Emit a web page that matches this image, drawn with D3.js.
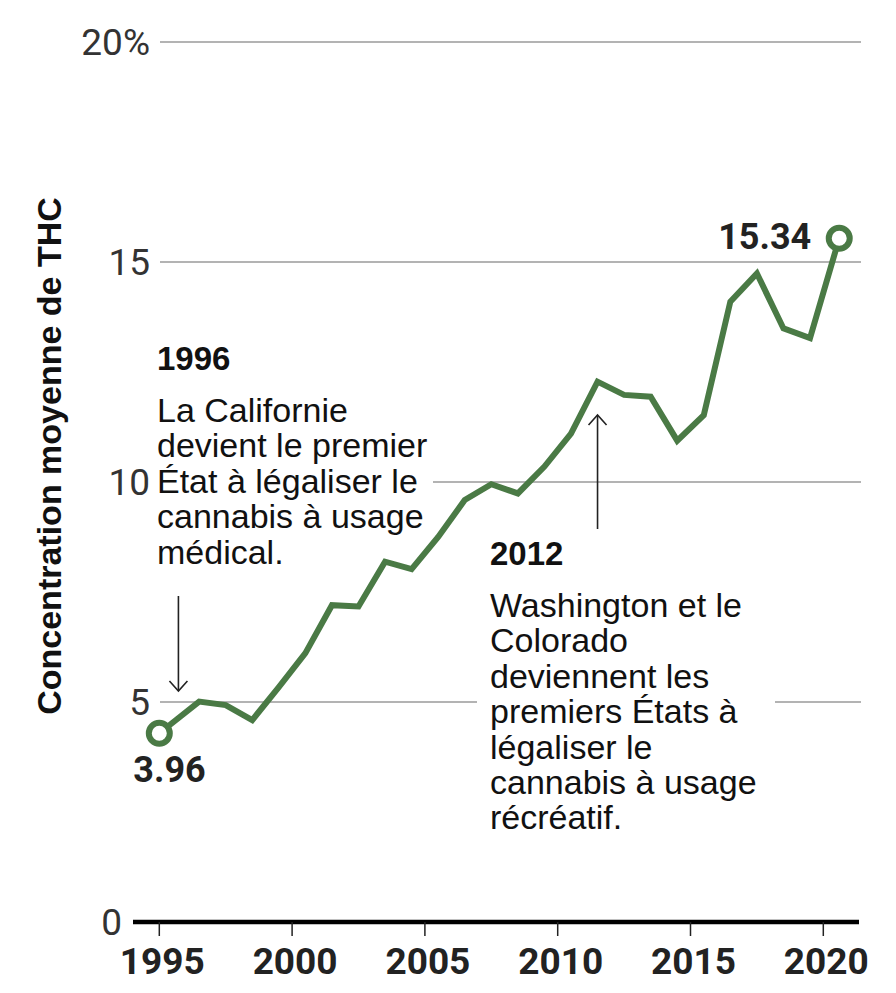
<!DOCTYPE html>
<html>
<head>
<meta charset="utf-8">
<script src="https://cdn.jsdelivr.net/npm/d3@7"></script>
<style>
  html, body { margin: 0; padding: 0; background: #fff; }
  svg { display: block; }
</style>
</head>
<body>
<div id="chart"></div>
<script>
// ---- Data ----
const years = [1995, 1996.5, 1997.5, 1998.5, 1999.5, 2000.5, 2001.5, 2002.5, 2003.5, 2004.5,
               2005.5, 2006.5, 2007.5, 2008.5, 2009.5, 2010.5, 2011.5, 2012.5, 2013.5, 2014.5,
               2015.5, 2016.5, 2017.5, 2018.5, 2019.5, 2020.6];
const thc = [4.29, 5.01, 4.93, 4.59, 5.34, 6.11, 7.2, 7.17, 8.19, 8.02,
             8.75, 9.59, 9.95, 9.74, 10.35, 11.1, 12.28, 11.98, 11.94, 10.94,
             11.52, 14.1, 14.74, 13.49, 13.27, 15.54];
const endLabels = ["3.96", "15.34"];
const xTicks = [1995, 2000, 2005, 2010, 2015, 2020];
const yTicks = [0, 5, 10, 15, 20];
const yTickLabels = ["0", "5", "10", "15", "20%"];
const yTitle = "Concentration moyenne de THC";
const notes = [
  { year: 1995.72, head: "1996", lines: ["La Californie", "devient le premier", "État à légaliser le", "cannabis à usage", "médical."] },
  { year: 2011.5, head: "2012", lines: ["Washington et le", "Colorado", "deviennent les", "premiers États à", "légaliser le", "cannabis à usage", "récréatif."] }
];

// ---- Layout ----
const W = 896, H = 993;
const green = "#4a7a45";
const svg = d3.select("#chart").append("svg").attr("width", W).attr("height", H);

const x = d3.scaleLinear().domain([1995, 2020]).range([159.3, 823.3]);
const y = d3.scaleLinear().domain([0, 20]).range([922, 42]);

// gridlines
svg.append("g").selectAll("line").data(yTicks.filter(d => d > 0)).join("line")
  .attr("x1", 160).attr("x2", 861)
  .attr("y1", d => y(d)).attr("y2", d => y(d))
  .attr("stroke", "#9a9a9a").attr("stroke-width", 1.5);

// y tick labels
svg.append("g").selectAll("text").data(yTicks).join("text")
  .attr("x", d => d === 0 ? 122 : 150)
  .attr("y", d => y(d))
  .attr("dy", "0.36em")
  .attr("text-anchor", "end")
  .attr("font-family", "Roboto, sans-serif")
  .attr("font-size", 37)
  .attr("fill", "#333")
  .text((d, i) => yTickLabels[i]);

// y title
svg.append("text")
  .attr("transform", `translate(61, ${456}) rotate(-90)`)
  .attr("text-anchor", "middle")
  .attr("font-family", "'Liberation Sans', Arial, sans-serif")
  .attr("font-weight", "bold")
  .attr("font-size", 34)
  .attr("fill", "#111")
  .text(yTitle);

// x axis
const xAxis = svg.append("g");
xAxis.append("line").attr("x1", 133).attr("x2", 859)
  .attr("y1", y(0)).attr("y2", y(0))
  .attr("stroke", "#000").attr("stroke-width", 4.5);
xAxis.selectAll("line.tick").data(xTicks).join("line").attr("class", "tick")
  .attr("x1", d => x(d)).attr("x2", d => x(d))
  .attr("y1", y(0)).attr("y2", y(0) + 14)
  .attr("stroke", "#222").attr("stroke-width", 1.5);
xAxis.selectAll("text").data(xTicks).join("text")
  .attr("x", d => x(d) + 3)
  .attr("y", 974)
  .attr("text-anchor", "middle")
  .attr("font-family", "Roboto, sans-serif")
  .attr("font-weight", "bold")
  .attr("font-size", 37)
  .attr("fill", "#222")
  .text(d => d);

// annotations
const annFont = "'Liberation Sans', Arial, sans-serif";
const ann1 = notes[0], ann2 = notes[1];
// white boxes behind texts
svg.append("rect").attr("x", 152).attr("y", 340).attr("width", 281).attr("height", 235).attr("fill", "#fff");
svg.append("rect").attr("x", 477).attr("y", 535).attr("width", 298).attr("height", 310).attr("fill", "#fff");

function drawNote(n, tx, headY) {
  const g = svg.append("g").attr("font-family", annFont).attr("fill", "#111");
  g.append("text").attr("x", tx).attr("y", headY)
    .attr("font-weight", "bold").attr("font-size", 33).text(n.head);
  n.lines.forEach((l, i) => {
    g.append("text").attr("x", tx).attr("y", headY + 52 + i * 35.4)
      .attr("font-size", 34).text(l);
  });
}
drawNote(ann1, 157, 370);
drawNote(ann2, 490, 565);

// arrows
function arrow(xp, y1, y2) {
  const dir = Math.sign(y2 - y1);
  const g = svg.append("g").attr("stroke", "#222").attr("stroke-width", 1.6).attr("fill", "none");
  g.append("line").attr("x1", xp).attr("x2", xp).attr("y1", y1).attr("y2", y2);
  g.append("path").attr("d", `M${xp - 9},${y2 - dir * 10} L${xp},${y2} L${xp + 9},${y2 - dir * 10}`);
}
arrow(x(ann1.year), 596, 691);
arrow(x(ann2.year), 529, 415);

// line
const pts = years.map((yr, i) => [yr, thc[i]]);
svg.append("path").datum(pts)
  .attr("fill", "none").attr("stroke", green).attr("stroke-width", 6)
  .attr("stroke-linejoin", "miter").attr("stroke-linecap", "butt")
  .attr("d", d3.line().x(d => x(d[0])).y(d => y(d[1])));

// end circles
const ends = [pts[0], pts[pts.length - 1]];
svg.append("g").selectAll("circle").data(ends).join("circle")
  .attr("cx", d => x(d[0])).attr("cy", d => y(d[1])).attr("r", 10.5)
  .attr("fill", "#fff").attr("stroke", green).attr("stroke-width", 6);

// end labels
svg.append("text").attr("x", x(ends[0][0]) - 26).attr("y", 782)
  .attr("font-family", "Roboto, sans-serif").attr("font-weight", "bold")
  .attr("font-size", 36).attr("fill", "#222").text(endLabels[0]);
svg.append("text").attr("x", x(ends[1][0]) - 28).attr("y", 249)
  .attr("text-anchor", "end")
  .attr("font-family", "Roboto, sans-serif").attr("font-weight", "bold")
  .attr("font-size", 36).attr("fill", "#222").text(endLabels[1]);
</script>
</body>
</html>
